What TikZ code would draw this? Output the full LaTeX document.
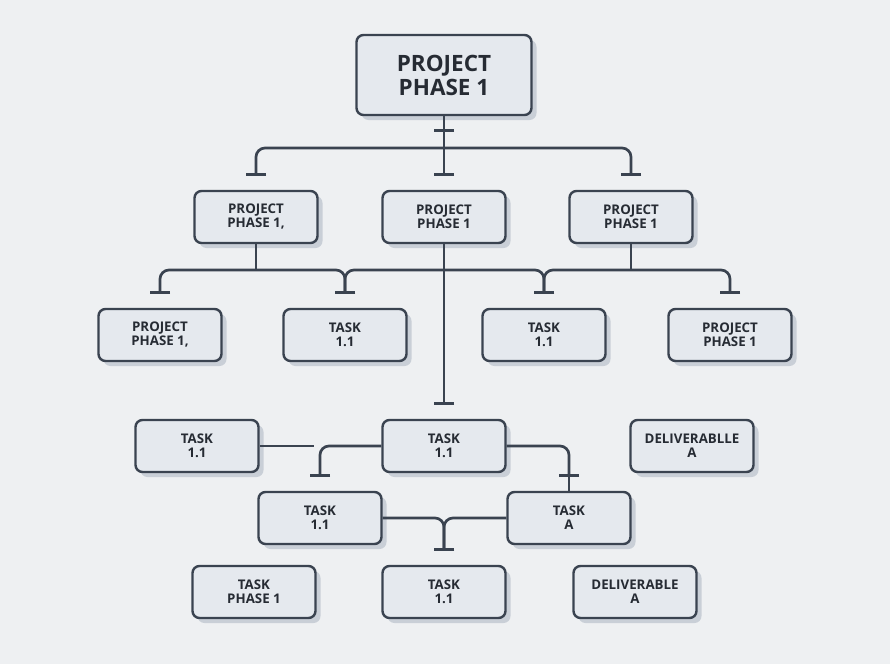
\documentclass[tikz,border=0pt]{standalone}
\usepackage{fontspec}
\setmainfont{Open Sans}
\usetikzlibrary{arrows.meta, shadows}
\definecolor{ink}{HTML}{3A4350}
\definecolor{word}{HTML}{262B33}
\definecolor{paper}{HTML}{EEF0F2}
\definecolor{boxfill}{HTML}{E5E9EE}
\definecolor{shade}{HTML}{C3CAD3}
\tikzset{
  every node/.style={font=\fontsize{13.3}{14}\selectfont\bfseries, text=word},
  box/.style={draw=ink, line width=2.4pt, fill=boxfill, rounded corners=7pt,
    minimum width=123pt, minimum height=52pt, align=center,
    drop shadow={shadow xshift=5pt, shadow yshift=-5pt, fill=shade, opacity=0.85}},
  bigbox/.style={box, minimum width=175pt, minimum height=80pt,
    font=\fontsize{22.5}{24}\selectfont\bfseries},
  link/.style={draw=ink, line width=2.7pt, rounded corners=9pt},
  tee/.style={link, -{Bar[width=20pt]}, shorten >=14pt},
  teeboth/.style={link, {Bar[width=20pt]}-{Bar[width=20pt]}, shorten <=14pt, shorten >=14pt},
}

\begin{document}
\begin{tikzpicture}[x=1pt, y=-1pt]
		\fill[paper] (0,0) rectangle (890,664);

		% boxes
		\node[bigbox] (root) at (444,75) {PROJECT\\PHASE 1};
		\node[box] (p1) at (256,217) {PROJECT\\PHASE 1,};
		\node[box] (p2) at (444,217) {PROJECT\\PHASE 1};
		\node[box] (p3) at (631,217) {PROJECT\\PHASE 1};

		\node[box] (a) at (160,335) {PROJECT\\PHASE 1,};
		\node[box] (b) at (345,335) {TASK\\1.1};
		\node[box] (c) at (544,335) {TASK\\1.1};
		\node[box] (d) at (730,335) {PROJECT\\PHASE 1};

		\node[box] (e) at (197,446) {TASK\\1.1};
		\node[box] (f) at (444,446) {TASK\\1.1};
		\node[box] (g) at (692,446) {DELIVERABLLE\\A};

		\node[box] (i) at (320,518) {TASK\\1.1};
		\node[box] (h) at (569,518) {TASK\\A};

		\node[box] (j) at (254,592) {TASK\\PHASE 1};
		\node[box] (k) at (444,592) {TASK\\1.1};
		\node[box] (l) at (635,592) {DELIVERABLE\\A};

		% levels and ticks
		\coordinate (lv1) at (0,148);
		\coordinate (lv2) at (0,270);
		\coordinate (tk1) at (444,132);
		\coordinate (tk2) at (569,477);
		\coordinate (ee) at (314,446);

		% links
		\draw[tee, shorten >=0pt] (root) -- (tk1);
		\draw[tee] (tk1) -- (p2);
		\draw[teeboth] (p1) -- (p1 |- lv1) -- (p3 |- lv1) -- (p3);

		\draw[link] (p1) -- (p1 |- lv2);
		\draw[link] (p3) -- (p3 |- lv2);
		\draw[teeboth] (a) -- (a |- lv2) -- (b |- lv2) -- (b);
		\draw[teeboth] (b) -- (b |- lv2) -- (c |- lv2) -- (c);
		\draw[teeboth] (c) -- (c |- lv2) -- (d |- lv2) -- (d);
		\draw[tee] (p2) -- (f);

		\draw[link] (e) -- (ee);
		\draw[tee] (f) -- (f -| i) -- (i);
		\draw[tee, shorten >=0pt] (f) -- (f -| tk2) -- (tk2);
		\draw[link] (tk2) -- (h);

		\draw[tee] (i) -- (i -| k) -- (k);
		\draw[tee] (h) -- (h -| k) -- (k);

	\end{tikzpicture}
\end{document}
